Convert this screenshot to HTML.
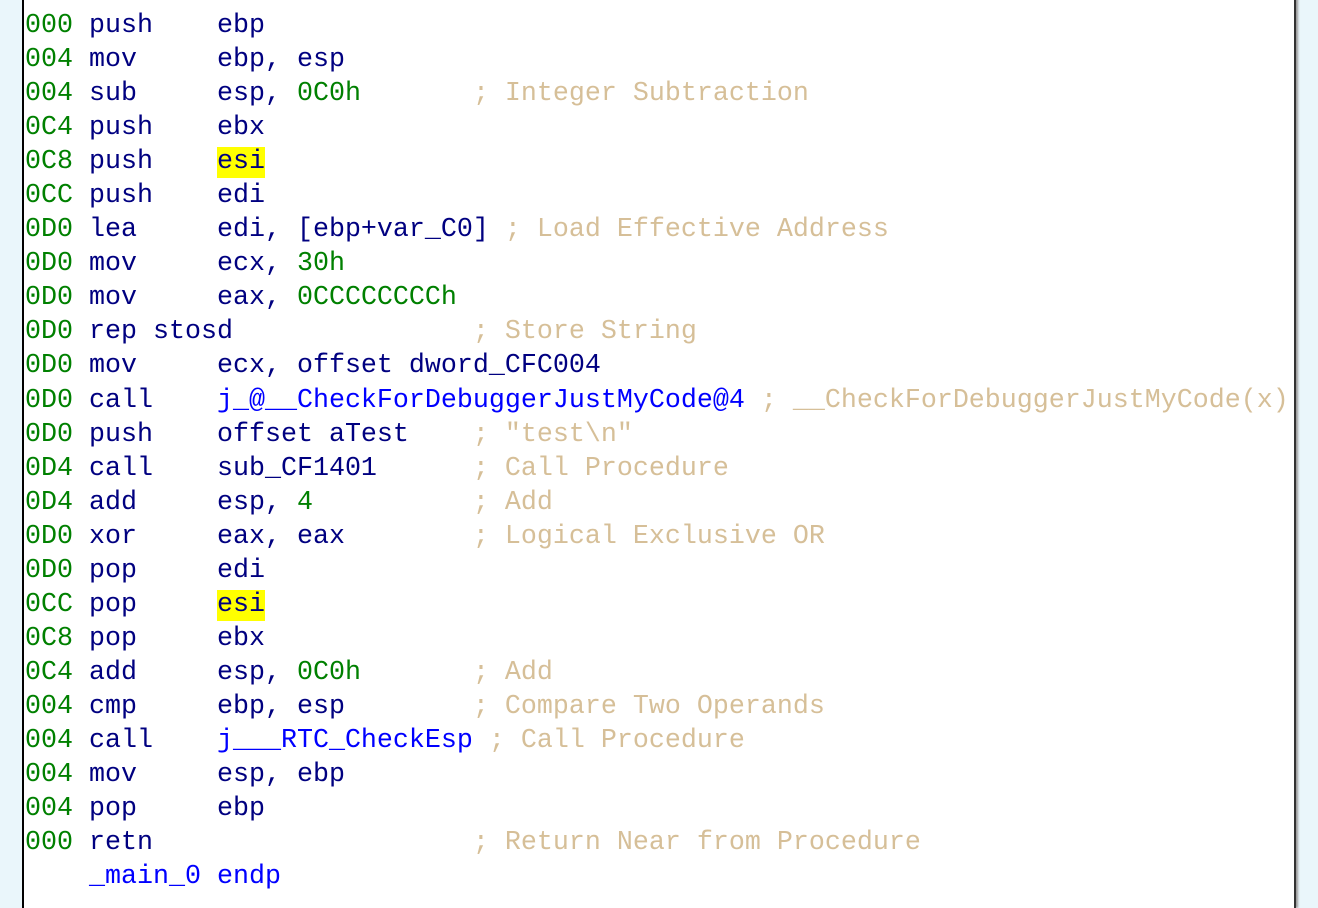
<!DOCTYPE html>
<html><head><meta charset="utf-8"><style>
html,body{margin:0;padding:0;width:1318px;height:902px;overflow:hidden;background:#eaf6fb;}
#panel{position:absolute;left:22px;top:-2px;width:1270px;height:910px;background:#fff;border-left:2px solid #000;border-right:2px solid #333;box-shadow:2px 0 2px #999;}
pre{position:absolute;left:25px;top:9px;margin:0;font-family:"Liberation Mono",monospace;font-size:26.67px;line-height:34.05px;color:#000080;}
.a{color:#008000}.n{color:#008000}.c{color:#d6bf98}.b{color:#0000ff}
.h{background:#ffff00;padding:0 0 1px 0}
</style></head><body>
<div id="panel"></div>
<pre><span class="a">000</span> push    ebp
<span class="a">004</span> mov     ebp, esp
<span class="a">004</span> sub     esp, <span class="n">0C0h</span>       <span class="c">; Integer Subtraction</span>
<span class="a">0C4</span> push    ebx
<span class="a">0C8</span> push    <span class="h">esi</span>
<span class="a">0CC</span> push    edi
<span class="a">0D0</span> lea     edi, [ebp+var_C0] <span class="c">; Load Effective Address</span>
<span class="a">0D0</span> mov     ecx, <span class="n">30h</span>
<span class="a">0D0</span> mov     eax, <span class="n">0CCCCCCCCh</span>
<span class="a">0D0</span> rep stosd               <span class="c">; Store String</span>
<span class="a">0D0</span> mov     ecx, offset dword_CFC004
<span class="a">0D0</span> call    <span class="b">j_@__CheckForDebuggerJustMyCode@4</span> <span class="c">; __CheckForDebuggerJustMyCode(x)</span>
<span class="a">0D0</span> push    offset aTest    <span class="c">; "test\n"</span>
<span class="a">0D4</span> call    sub_CF1401      <span class="c">; Call Procedure</span>
<span class="a">0D4</span> add     esp, <span class="n">4</span>          <span class="c">; Add</span>
<span class="a">0D0</span> xor     eax, eax        <span class="c">; Logical Exclusive OR</span>
<span class="a">0D0</span> pop     edi
<span class="a">0CC</span> pop     <span class="h">esi</span>
<span class="a">0C8</span> pop     ebx
<span class="a">0C4</span> add     esp, <span class="n">0C0h</span>       <span class="c">; Add</span>
<span class="a">004</span> cmp     ebp, esp        <span class="c">; Compare Two Operands</span>
<span class="a">004</span> call    <span class="b">j___RTC_CheckEsp</span> <span class="c">; Call Procedure</span>
<span class="a">004</span> mov     esp, ebp
<span class="a">004</span> pop     ebp
<span class="a">000</span> retn                    <span class="c">; Return Near from Procedure</span>
    <span class="b">_main_0 endp</span></pre>
</body></html>
